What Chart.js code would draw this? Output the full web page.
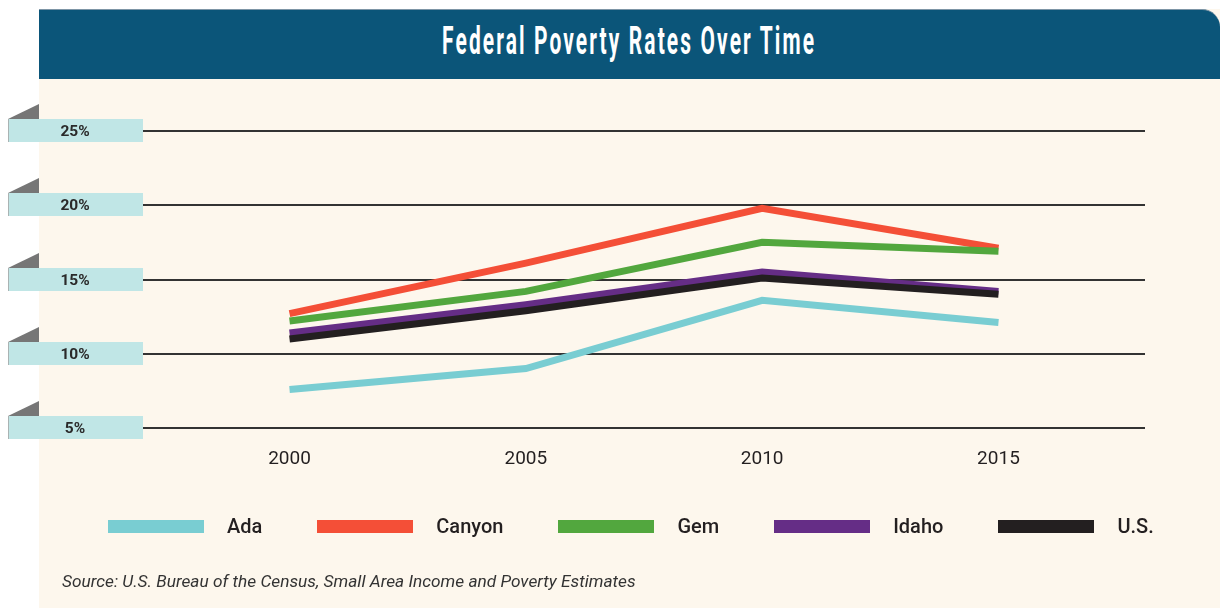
<!DOCTYPE html>
<html>
<head>
<meta charset="utf-8">
<script src="https://cdn.jsdelivr.net/npm/chart.js@4.4.1/dist/chart.umd.min.js"></script>
<style>
  html, body { margin: 0; padding: 0; background: #fff; }
  body { width: 1220px; height: 608px; position: relative; overflow: hidden; font-family: Roboto, "Noto Sans", sans-serif; }
  #panel { position: absolute; left: 39px; top: 9px; width: 1181px; height: 599px; background: #fdf7ed; }
  #titlebar { position: absolute; left: 39px; top: 9px; width: 1181px; height: 70px; background: #0b5579;
    border-top-right-radius: 18px; border-top: 1px solid #7d95a6; box-sizing: border-box; }
  #title { position: absolute; left: 0; top: 8px; width: 100%; text-align: center; color: #fff;
    font: bold 39px/46px Roboto, sans-serif; letter-spacing: 4px; white-space: nowrap; }
  #title span { display: inline-block; transform-origin: center; }
  #wrap { position: absolute; left: 0; top: 0; width: 1220px; height: 608px; }
  #legend { position: absolute; left: 108px; top: 513px; display: flex; align-items: center; height: 26px; }
  .item { display: flex; align-items: center; margin-right: 55px; }
  .swatch { width: 96px; height: 13px; margin-right: 23px; }
  .label { font-size: 20px; font-weight: 500; color: #231f20; }
  #source { position: absolute; left: 62px; top: 571px; font: italic 17.3px Roboto, sans-serif; color: #333; }
</style>
</head>
<body>
<div id="panel"></div>
<div id="titlebar"><div id="title"><span id="titleText">Federal Poverty Rates Over Time</span></div></div>
<div id="wrap"><canvas id="chart"></canvas></div>
<div id="legend"></div>
<div id="source">Source: U.S. Bureau of the Census, Small Area Income and Poverty Estimates</div>

<script>
const years = [2000, 2005, 2010, 2015];
const ada = [7.6, 9.0, 13.6, 12.1];
const canyon = [12.7, 16.1, 19.8, 17.1];
const gem = [12.2, 14.2, 17.5, 16.9];
const idaho = [11.4, 13.3, 15.5, 14.2];
const us = [11.0, 12.9, 15.1, 14.0];
const yTicks = [5, 10, 15, 20, 25];

const seriesNames = ['Ada', 'Canyon', 'Gem', 'Idaho', 'U.S.'];
const seriesValues = [ada, canyon, gem, idaho, us];
const seriesColors = ['#79cdd2', '#f44f37', '#52a73e', '#652d86', '#231f20'];

// squeeze the title into the condensed width of the original
const t = document.getElementById('titleText');
t.style.transform = 'scaleX(' + (374 / t.getBoundingClientRect().width) + ')';

const datasets = seriesNames.map((name, i) => ({
  label: name,
  data: years.map((yr, j) => ({ x: yr, y: seriesValues[i][j] })),
  borderColor: seriesColors[i],
  backgroundColor: seriesColors[i],
  borderWidth: 7,
  borderCapStyle: 'butt',
  borderJoinStyle: 'miter',
  pointRadius: 0,
  tension: 0,
  order: seriesNames.length - 1 - i,
}));

// light blue tabs with a grey fold for the y labels
const yTabs = {
  id: 'yTabs',
  afterDraw(chart) {
    const ctx = chart.ctx;
    const y = chart.scales.y;
    ctx.save();
    yTicks.forEach(v => {
      const py = Math.round(y.getPixelForValue(v));
      ctx.fillStyle = '#767676';
      ctx.beginPath();
      ctx.moveTo(8, py - 12);
      ctx.lineTo(39, py - 27);
      ctx.lineTo(39, py - 12);
      ctx.closePath();
      ctx.fill();
      ctx.fillStyle = '#c0e6e6';
      ctx.fillRect(8, py - 12, 135, 23);
      ctx.fillStyle = '#a9b3b3';
      ctx.fillRect(8, py - 12, 1, 23);
      ctx.fillStyle = '#2a2a2a';
      ctx.font = 'bold 15.5px Roboto, sans-serif';
      ctx.textAlign = 'center';
      ctx.textBaseline = 'middle';
      ctx.fillText(v + '%', 75, py + 1);
    });
    ctx.restore();
  }
};

new Chart(document.getElementById('chart'), {
  type: 'line',
  data: { datasets },
  options: {
    responsive: true,
    maintainAspectRatio: false,
    animation: false,
    layout: { padding: { top: 131, right: 75, bottom: 120, left: 0 } },
    plugins: { legend: { display: false }, tooltip: { enabled: false } },
    scales: {
      x: {
        type: 'linear',
        min: 1996.9,
        max: 2018.1,
        afterBuildTicks(s) { s.ticks = years.map(v => ({ value: v })); },
        afterFit(s) { s.height = 60; },
        grid: { display: false, drawTicks: false },
        border: { display: false },
        ticks: {
          padding: 20,
          color: '#231f20',
          font: { family: 'Roboto', size: 19 },
          callback: v => String(v),
        },
      },
      y: {
        min: 5,
        max: 25,
        afterBuildTicks(s) { s.ticks = yTicks.map(v => ({ value: v })); },
        afterFit(s) { s.width = 143; },
        grid: { color: '#333', lineWidth: 2, drawTicks: false },
        border: { display: false },
        ticks: { display: false },
      },
    },
  },
  plugins: [yTabs],
});

// legend built from the same series lists
const legend = document.getElementById('legend');
seriesNames.forEach((name, i) => {
  const item = document.createElement('div');
  item.className = 'item';
  const sw = document.createElement('div');
  sw.className = 'swatch';
  sw.style.background = seriesColors[i];
  const lb = document.createElement('div');
  lb.className = 'label';
  lb.textContent = name;
  item.appendChild(sw);
  item.appendChild(lb);
  legend.appendChild(item);
});
</script>
</body>
</html>
